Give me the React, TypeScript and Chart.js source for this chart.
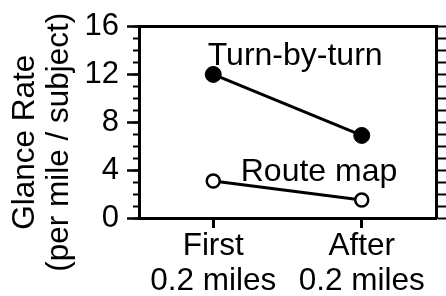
import React, { useEffect, useRef } from "react";
import { Chart, registerables } from "chart.js";

Chart.register(...registerables);

const categories = [["First", "0.2 miles"], ["After", "0.2 miles"]];
const turnByTurn = [12.0, 6.9];
const routeMap = [3.1, 1.5];
const seriesNames = ["Turn-by-turn", "Route map"];
const yTitle = ["Glance Rate", "(per mile / subject)"];
const yMin = 0;
const yMax = 16;
const yMajorStep = 4;
const yMinorStep = 1;

const FONT = "'Liberation Sans', Arial, Helvetica, sans-serif";
const BLACK = "#000000";

export default function App() {
  const ref = useRef<HTMLCanvasElement>(null);

  useEffect(() => {
    const canvas = ref.current;
    if (!canvas) return;

    const titlePlugin = {
      id: "yTitleLines",
      afterDraw(chart: any) {
        const { ctx, chartArea } = chart;
        ctx.save();
        ctx.fillStyle = BLACK;
        ctx.font = `31.5px ${FONT}`;
        ctx.textAlign = "center";
        ctx.textBaseline = "alphabetic";
        const cy = (chartArea.top + chartArea.bottom) / 2 + 20;
        ctx.translate(0, cy);
        ctx.rotate(-Math.PI / 2);
        ctx.fillText(yTitle[0], 0, 34);
        ctx.fillText(yTitle[1], 0, 68);
        ctx.restore();
      },
    };

    const labelAnchors = [
      { index: -0.037, value: 12.77 },
      { index: 0.185, value: 3.07 },
    ];

    const labelPlugin = {
      id: "seriesLabels",
      afterDatasetsDraw(chart: any) {
        const { ctx } = chart;
        const xs = chart.scales.x;
        const ys = chart.scales.y;
        ctx.save();
        ctx.fillStyle = BLACK;
        ctx.font = `32px ${FONT}`;
        ctx.textAlign = "left";
        ctx.textBaseline = "alphabetic";
        seriesNames.forEach((name, i) => {
          const a = labelAnchors[i];
          ctx.fillText(name, xs.getPixelForValue(a.index), ys.getPixelForValue(a.value));
        });
        ctx.restore();
      },
    };

    const chart = new Chart(canvas, {
      type: "line",
      data: {
        labels: categories as any,
        datasets: [
          {
            label: seriesNames[0],
            data: turnByTurn,
            borderColor: BLACK,
            borderWidth: 3,
            pointRadius: 8,
            pointBackgroundColor: BLACK,
            pointBorderColor: BLACK,
            pointBorderWidth: 1,
            fill: false,
            tension: 0,
          },
          {
            label: seriesNames[1],
            data: routeMap,
            borderColor: BLACK,
            borderWidth: 3,
            pointRadius: 6.5,
            pointBackgroundColor: "#ffffff",
            pointBorderColor: BLACK,
            pointBorderWidth: 2.5,
            fill: false,
            tension: 0,
          },
        ],
      },
      options: {
        animation: false,
        responsive: false,
        maintainAspectRatio: false,
        layout: { padding: { top: 20, left: 0, right: 0, bottom: 0 } },
        plugins: {
          legend: { display: false },
          tooltip: { enabled: false },
          title: { display: false },
        },
        scales: {
          x: {
            type: "category",
            position: "bottom",
            offset: true,
            grid: {
              display: true,
              drawOnChartArea: false,
              drawTicks: true,
              tickLength: 10,
              tickWidth: 3,
              tickColor: BLACK,
              offset: false,
            },
            border: { display: true, color: BLACK, width: 3 },
            ticks: {
              color: BLACK,
              font: { family: FONT, size: 31.5, lineHeight: "35px" },
              padding: 1,
              maxRotation: 0,
              autoSkip: false,
            },
            afterFit: (s: any) => {
              s.height = 78;
            },
          },
          xTop: {
            type: "category",
            position: "top",
            offset: true,
            grid: { display: true, drawOnChartArea: false, drawTicks: false },
            border: { display: true, color: BLACK, width: 3 },
            ticks: { display: false },
            afterFit: (s: any) => {
              s.height = 0;
            },
          },
          y: {
            type: "linear",
            position: "left",
            min: yMin,
            max: yMax,
            weight: 1,
            ticks: {
              stepSize: yMajorStep,
              color: BLACK,
              font: { family: FONT, size: 31 },
              padding: 8,
            },
            grid: {
              display: true,
              drawOnChartArea: false,
              tickLength: 12,
              tickWidth: 2.5,
              tickColor: BLACK,
            },
            border: { display: true, color: BLACK, width: 3 },
            afterFit: (s: any) => {
              s.width = 139;
            },
          },
          yMinor: {
            type: "linear",
            position: "left",
            min: yMin,
            max: yMax,
            weight: 0,
            ticks: { stepSize: yMinorStep, display: false },
            grid: {
              display: true,
              drawOnChartArea: false,
              tickLength: 6,
              tickWidth: 2,
              tickColor: BLACK,
            },
            border: { display: false },
            afterFit: (s: any) => {
              s.width = 0;
            },
          },
          yRight: {
            type: "linear",
            position: "right",
            min: yMin,
            max: yMax,
            ticks: { stepSize: yMinorStep, display: false },
            grid: {
              display: true,
              drawOnChartArea: false,
              tickLength: 12,
              tickWidth: 2,
              tickColor: BLACK,
            },
            border: { display: true, color: BLACK, width: 3 },
            afterFit: (s: any) => {
              s.width = 10;
            },
          },
        },
      } as any,
      plugins: [titlePlugin, labelPlugin],
    });

    return () => {
      chart.destroy();
    };
  }, []);

  return (
    <div style={{ position: "absolute", left: 0, top: 0, width: 446, height: 296, background: "#fff" }}>
      <canvas ref={ref} width={446} height={296} style={{ display: "block", width: 446, height: 296 }} />
    </div>
  );
}
